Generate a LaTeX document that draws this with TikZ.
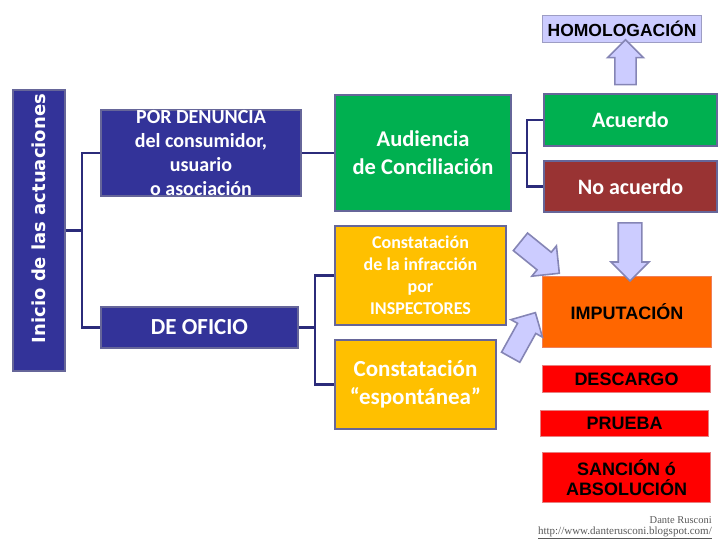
\documentclass[tikz,border=0pt]{standalone}
\usepackage{fontspec}
\setmainfont{Carlito}
\newfontfamily\headfont{Liberation Sans}
\newfontfamily\sidefont{DejaVu Sans}
\newfontfamily\creditfont{Liberation Serif}
\usetikzlibrary{shapes.arrows}
\definecolor{sideblue}{HTML}{333399}
\definecolor{edgegray}{HTML}{666699}
\definecolor{linkblue}{HTML}{2B2B7A}
\definecolor{okgreen}{HTML}{00B050}
\definecolor{nored}{HTML}{993333}
\definecolor{amber}{HTML}{FFC000}
\definecolor{lavender}{HTML}{CCCCFF}
\definecolor{lavline}{HTML}{8585B5}
\definecolor{hotorange}{HTML}{FF6600}
\definecolor{pinkedge}{HTML}{E88080}
\begin{document}
\begin{tikzpicture}[x=1pt,y=-1pt,
  box/.style={draw=edgegray,line width=1.8pt,inner sep=0pt,align=center,text=white},
  redbox/.style={draw=pinkedge,line width=1.2pt,fill=red,inner sep=0pt,align=center,
    font=\headfont\bfseries\fontsize{18}{20}\selectfont},
  link/.style={draw=linkblue,line width=2.5pt},
  bigarrow/.style={single arrow,fill=lavender,draw=lavline,line width=1.6pt,inner sep=0pt}]
\useasboundingbox (0,0) rectangle (720,540);

% left column
\node[box,fill=sideblue,minimum width=281,minimum height=52,rotate=90,
  font=\sidefont\bfseries\fontsize{18}{20}\selectfont] (inicio) at (39,230.5) {\hspace*{24pt}Inicio de las actuaciones};
\node[box,fill=sideblue,minimum width=200,minimum height=80,
  font=\bfseries\fontsize{20}{24}\selectfont] (denuncia) at (201,153)
  {POR DENUNCIA\\del consumidor,\\usuario\\o asociación};
\node[box,fill=sideblue,minimum width=197,minimum height=41,
  font=\bfseries\fontsize{23}{26}\selectfont] (oficio) at (199.5,327.5) {DE OFICIO};

% middle column
\node[box,fill=okgreen,minimum width=176,minimum height=116,
  font=\bfseries\fontsize{22.5}{28}\selectfont] (audiencia) at (423,153) {Audiencia\\de Conciliación};
\node[box,fill=amber,minimum width=171,minimum height=99,
  font=\bfseries\fontsize{18}{22}\selectfont] (insp) at (420.5,275.5)
  {Constatación\\de la infracción\\por\\INSPECTORES};
\node[box,fill=amber,minimum width=161,minimum height=89,
  font=\bfseries\fontsize{23}{28}\selectfont] (espont) at (415.5,384.5)
  {Constatación\\“espontánea”};

% right column
\node[box,fill=okgreen,minimum width=173,minimum height=52,
  font=\bfseries\fontsize{22}{26}\selectfont] (acuerdo) at (630.5,120) {Acuerdo};
\node[box,fill=nored,minimum width=173,minimum height=51,
  font=\bfseries\fontsize{22}{26}\selectfont] (noacuerdo) at (630.5,186.5) {No acuerdo};
\node[draw=lavline!80,line width=1.2pt,fill=lavender,minimum width=159,minimum height=27,inner sep=0pt,
  font=\headfont\bfseries\fontsize{17.5}{19}\selectfont] (homolog) at (622,29) {HOMOLOGACIÓN};
\node[draw=pinkedge!70!orange,line width=1.2pt,fill=hotorange,minimum width=169,minimum height=71,inner sep=0pt,
  font=\headfont\bfseries\fontsize{18}{20}\selectfont] (imput) at (627,312) {IMPUTACIÓN};
\node[redbox,minimum width=168,minimum height=27] (descargo) at (626.5,379) {DESCARGO};
\node[redbox,minimum width=168,minimum height=26] (prueba) at (624.5,423.5) {PRUEBA};
\node[redbox,minimum width=168,minimum height=50] (sancion) at (626.5,477.5) {SANCIÓN ó\\ABSOLUCIÓN};

% connectors
\draw[link] (inicio.south) -- ++(16,0);
\draw[link] (denuncia.west) -- ++(-18,0) |- (oficio.west);
\draw[link] (denuncia.east) -- (audiencia.west);
\draw[link] (oficio.east) -- ++(16,0);
\draw[link] (insp.west) -- ++(-19,0) |- (espont.west);
\draw[link] (audiencia.east) -- ++(15,0);
\draw[link] (acuerdo.west) -- ++(-16,0) |- (noacuerdo.west);

% block arrows
\node[bigarrow,inner ysep=9.5pt,minimum height=45,minimum width=36,rotate=90] (up) at (625.5,67.5) {};
\node[bigarrow,inner ysep=11pt,minimum height=58,minimum width=37,rotate=-90] (down) at (630,246) {};
\node[bigarrow,inner ysep=9pt,minimum height=50,minimum width=39,rotate=-39] (diagA) at (535.5,254) {};
\node[bigarrow,inner ysep=9pt,minimum height=51,minimum width=36,rotate=61] (diagB) at (520.5,339.5) {};

% credit
\node[anchor=base east,inner sep=0pt,text=black!65,font=\creditfont\fontsize{10.5}{11}\selectfont] (autor) at (712,523) {Dante Rusconi};
\node[anchor=base east,inner sep=0pt,text=black!65,font=\creditfont\fontsize{11}{11}\selectfont] (blog) at (712,534) {\underline{http://www.danterusconi.blogspot.com/}};
\end{tikzpicture}
\end{document}
